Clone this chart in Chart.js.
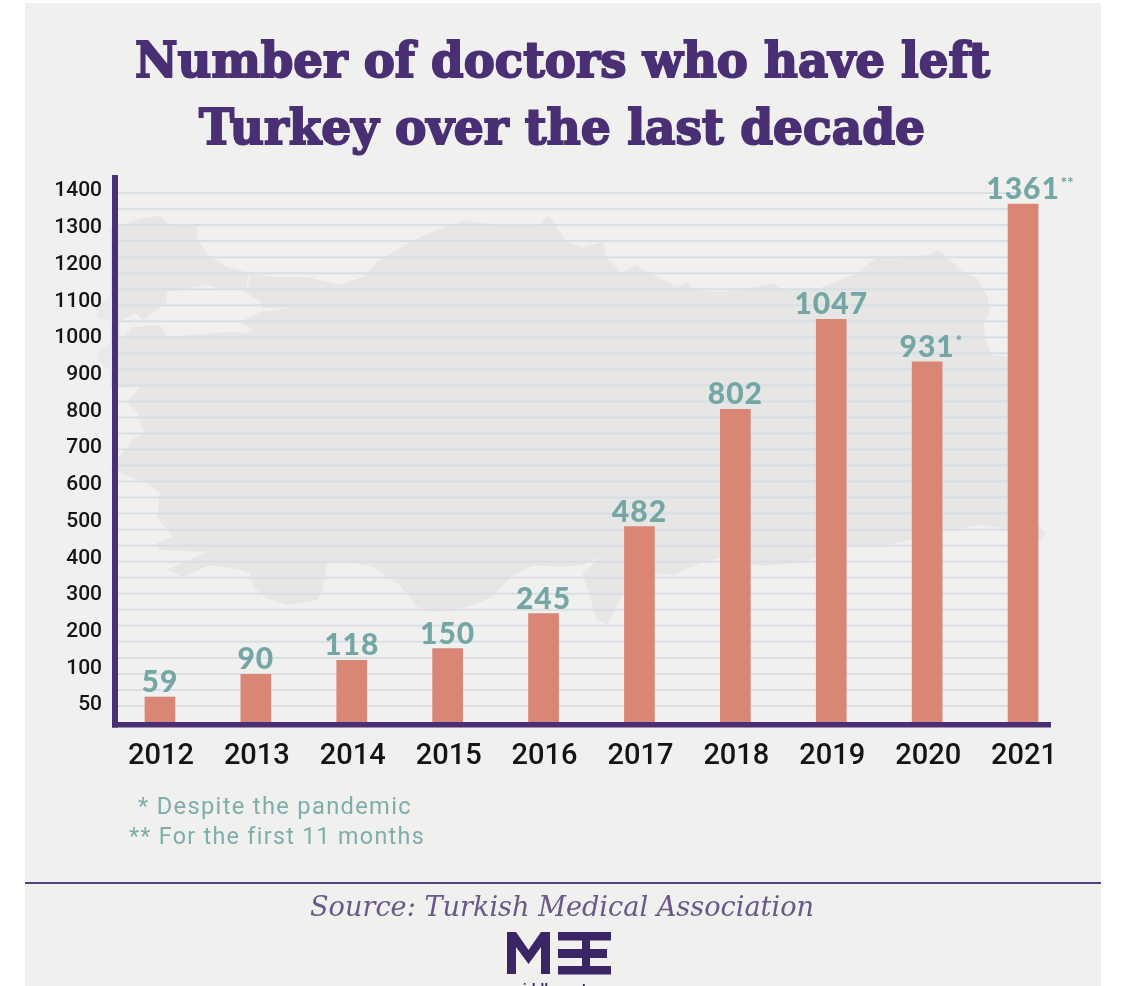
<!DOCTYPE html>
<html>
<head>
<meta charset="utf-8">
<title>Number of doctors who have left Turkey</title>
<script src="https://cdn.jsdelivr.net/npm/chart.js@4"></script>
<style>
html, body { margin: 0; padding: 0; background: #fff; overflow: hidden; }
#page { position: relative; width: 1125px; height: 986px; overflow: hidden; }
#panel { position: absolute; left: 25px; top: 3px; width: 1076px; height: 983px; background: #f0f0ef; }
#map { position: absolute; left: 0; top: 0; }
#chart { position: absolute; left: 0; top: 0; }
.line { position: absolute; white-space: nowrap; transform-origin: left top; line-height: 1; }
.title { font-family: "DejaVu Serif"; font-weight: 700; font-size: 49px; color: #4a2f74; -webkit-text-stroke: 2px #4a2f74; }
.note { font-family: Roboto; font-size: 23.5px; letter-spacing: 1.3px; color: #7fadab; }
#source { font-family: "DejaVu Serif"; font-style: italic; font-size: 28px; color: #6a5888; }
#rule { position: absolute; left: 25px; top: 882px; width: 1076px; height: 1.5px; background: #57407f; }
#logo { position: absolute; left: 0; top: 0; }
#site { font-family: Roboto; font-weight: 500; font-size: 15px; color: #3c2566; }
</style>
</head>
<body>
<div id="page">
  <div id="panel"></div>
  <svg id="map" width="1125" height="986">
    <path fill="#e6e6e5" fill-rule="evenodd" d="M110,226 L118,226 143,218 160,216 170,225 197,225 197,238 207,255 227,267 250,273 273,277 307,277 340,285 363,277 377,262 400,248 420,237 450,225 463,221 500,225 540,225 548,215 555,225 567,242 583,247 603,242 607,258 622,273 635,265 650,273 677,287 687,282 693,290 720,292 750,288 773,283 783,290 820,288 857,273 877,257 900,257 930,255 937,250 945,255 963,272 977,278 988,298 990,312 983,325 987,345 993,355 1012,358 1012,530 983,525 947,530 920,538 887,545 853,545 830,552 800,563 760,566 720,558 700,563 673,575 640,572 628,577 620,600 608,625 597,620 587,587 582,575 600,557 582,565 560,567 533,565 510,577 493,597 467,607 437,612 417,607 400,585 373,567 353,563 327,563 323,590 317,600 287,605 267,598 253,587 250,573 240,570 210,565 183,577 167,570 207,552 160,550 157,543 173,537 157,517 160,493 147,483 120,473 110,467 118,458 133,440 143,432 137,412 127,402 140,387 110,388 Z
      M143,320 L167,302 167,292 207,285 223,290 243,290 260,302 263,308 290,308 260,312 240,322 253,330 247,333 227,332 190,335 167,337 160,325 133,327 120,340 120,322 135,313 Z
      M1012,522 L1038,525 1046,533 1040,540 1012,535 Z"/>
    <path fill="#e9e9e8" d="M112,296 L99,305 97,318 112,322 Z M112,343 L100,350 97,360 112,372 Z"/>
    <path stroke="#f0f0ef" stroke-width="1.5" fill="none" d="M250,273 L247,288"/>
  </svg>
  <canvas id="chart" width="1125" height="986"></canvas>
  <div class="line title" data-w="855" style="left:135px; top:36px">Number of doctors who have left</div>
  <div class="line title" data-w="726" style="left:199px; top:103px">Turkey over the last decade</div>
  <div class="line note" data-w="274" style="left:138px; top:795px">* Despite the pandemic</div>
  <div class="line note" data-w="296" style="left:129px; top:825px">** For the first 11 months</div>
  <div id="rule"></div>
  <div id="source" class="line" data-w="504" style="left:310px; top:893px">Source: Turkish Medical Association</div>
  <svg id="logo" width="1125" height="986">
    <path fill="#3c2566" d="M507,974 L507,932 516,932 528.5,950 541,932 550,932 550,974 541,974 541,947 528.5,964 516,947 516,974 Z"/>
    <path fill="#3c2566" d="M558,932 H611 V940.5 H590 V949 H607 V958 H590 V966 H611 V974.5 H558 V966 H582 V958 H558 V949 H582 V940.5 H558 Z"/>
  </svg>
  <div id="site" class="line" data-w="102" style="left:509px; top:982px">middleeasteye</div>
</div>

<script>
var years = ['2012', '2013', '2014', '2015', '2016', '2017', '2018', '2019', '2020', '2021'];
var doctors = [59, 90, 118, 150, 245, 482, 802, 1047, 931, 1361];
var notes = ['', '', '', '', '', '', '', '', '*', '**'];
var yTicks = [50, 100, 200, 300, 400, 500, 600, 700, 800, 900, 1000, 1100, 1200, 1300, 1400];

var purple = '#4a2f74';
var teal = '#74a6a5';

// stretch the html text lines to the width they have in the picture
document.querySelectorAll('.line').forEach(function (el) {
    var w = el.getBoundingClientRect().width;
    el.style.transform = 'scaleX(' + (el.dataset.w / w) + ')';
});

// the printed axis is not even: 50 and 100 get a full row each, then 100 per row
function rows(v) {
    if (v <= 50) return v / 100;
    if (v <= 100) return (v - 50) / 50 + 0.5;
    return v / 100 + 0.5;
}

class RowScale extends Chart.LinearScale {
    getPixelForValue(value) {
        return this.getPixelForDecimal(rows(value) / rows(this.max));
    }
}
RowScale.id = 'rows';
RowScale.defaults = {};
Chart.register(RowScale);

var rulesAndAxes = {
    id: 'rulesAndAxes',
    beforeDatasetsDraw: function (chart) {
        var ctx = chart.ctx, area = chart.chartArea;
        var lastBar = chart.getDatasetMeta(0).data[years.length - 1];
        ctx.save();
        ctx.strokeStyle = 'rgba(214,222,226,0.9)';
        ctx.lineWidth = 2;
        for (var n = 1; n <= 33; n++) {
            var y = area.bottom - n * 16.03;
            ctx.beginPath();
            ctx.moveTo(area.left, y);
            ctx.lineTo(lastBar.x, y);
            ctx.stroke();
        }
        ctx.restore();
    },
    afterDatasetsDraw: function (chart) {
        var ctx = chart.ctx, area = chart.chartArea;
        ctx.save();
        ctx.fillStyle = purple;
        ctx.fillRect(area.left, area.top, 6, area.bottom - area.top + 5.5);
        ctx.fillRect(area.left, area.bottom, area.right - area.left - 20, 5.5);

        // value labels with their footnote stars
        var bars = chart.getDatasetMeta(0).data;
        ctx.textBaseline = 'alphabetic';
        bars.forEach(function (bar, i) {
            var label = String(doctors[i]);
            ctx.font = '900 30px Lato';
            ctx.letterSpacing = '1px';
            ctx.textAlign = 'center';
            ctx.fillStyle = teal;
            ctx.fillText(label, bar.x, bar.y - 5);
            if (notes[i]) {
                var half = ctx.measureText(label).width / 2;
                ctx.font = '900 15px Lato';
                ctx.letterSpacing = '0px';
                ctx.textAlign = 'left';
                ctx.fillText(notes[i], bar.x + half + 1, bar.y - 16);
            }
        });
        ctx.restore();
    }
};

new Chart(document.getElementById('chart'), {
    type: 'bar',
    data: {
        labels: years,
        datasets: [{
            label: 'Doctors who left',
            data: doctors,
            backgroundColor: '#d98675',
            barThickness: 30
        }]
    },
    options: {
        responsive: false,
        animation: false,
        layout: { padding: { left: 0, top: 175, right: 54, bottom: 214 } },
        plugins: { legend: { display: false }, tooltip: { enabled: false } },
        scales: {
            x: {
                grid: { display: false, drawTicks: false },
                border: { display: false },
                afterFit: function (scale) { scale.height = 50; },
                ticks: {
                    color: '#141414',
                    padding: 17,
                    labelOffset: 1,
                    maxRotation: 0,
                    font: { family: 'Roboto', size: 29, weight: 500 }
                }
            },
            y: {
                type: 'rows',
                min: 0,
                max: 1440,
                grid: { display: false, drawTicks: false },
                border: { display: false },
                afterFit: function (scale) { scale.width = 112; },
                afterBuildTicks: function (scale) {
                    scale.ticks = yTicks.map(function (v) { return { value: v }; });
                },
                ticks: {
                    color: '#141414',
                    padding: 10,
                    labelOffset: 1.5,
                    autoSkip: false,
                    font: { family: 'Roboto', size: 21, weight: 500 },
                    callback: function (v) { return String(v); }
                }
            }
        }
    },
    plugins: [rulesAndAxes]
});
</script>
</body>
</html>
